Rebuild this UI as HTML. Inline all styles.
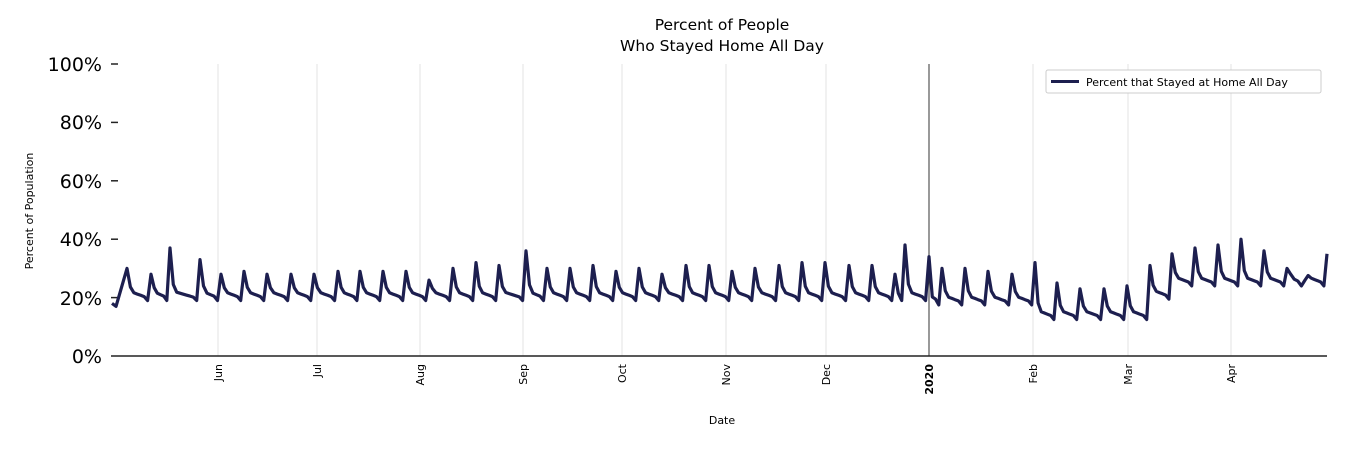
<!DOCTYPE html>
<html><head><meta charset="utf-8"><style>
html,body{margin:0;padding:0;background:#fff;width:1350px;height:450px;overflow:hidden}
text{font-family:"DejaVu Sans","Liberation Sans",sans-serif}
</style></head><body>
<svg id="s" width="1350" height="450" xmlns="http://www.w3.org/2000/svg">
<text x="722" y="30" font-size="15.5" text-anchor="middle">Percent of People</text>
<text x="722" y="51" font-size="15.5" text-anchor="middle">Who Stayed Home All Day</text>
<g stroke="#e3e3e3" stroke-width="1">
<line x1="218" y1="64" x2="218" y2="356"/><line x1="317" y1="64" x2="317" y2="356"/>
<line x1="420" y1="64" x2="420" y2="356"/><line x1="523" y1="64" x2="523" y2="356"/>
<line x1="622" y1="64" x2="622" y2="356"/><line x1="726" y1="64" x2="726" y2="356"/>
<line x1="826" y1="64" x2="826" y2="356"/><line x1="1033" y1="64" x2="1033" y2="356"/>
<line x1="1128" y1="64" x2="1128" y2="356"/><line x1="1231" y1="64" x2="1231" y2="356"/>
</g>
<line x1="929" y1="64" x2="929" y2="356" stroke="#000" stroke-width="0.8"/>
<line x1="111" y1="356" x2="1327" y2="356" stroke="#222" stroke-width="1.5"/>
<g stroke="#222" stroke-width="1.5">
<line x1="111" y1="64" x2="118" y2="64"/><line x1="111" y1="122.4" x2="118" y2="122.4"/>
<line x1="111" y1="180.8" x2="118" y2="180.8"/><line x1="111" y1="239.2" x2="118" y2="239.2"/>
<line x1="111" y1="297.6" x2="118" y2="297.6"/>
</g>
<g font-size="19" text-anchor="end">
<text x="102" y="71">100%</text><text x="102" y="129">80%</text><text x="102" y="188">60%</text>
<text x="102" y="246">40%</text><text x="102" y="305">20%</text><text x="102" y="363">0%</text>
</g>
<text transform="translate(33,211) rotate(-90)" font-size="11" text-anchor="middle">Percent of Population</text>
<text x="722" y="424" font-size="11" text-anchor="middle">Date</text>
<g font-size="11" text-anchor="end">
<text transform="translate(222,364) rotate(-90)">Jun</text>
<text transform="translate(321,364) rotate(-90)">Jul</text>
<text transform="translate(424,364) rotate(-90)">Aug</text>
<text transform="translate(527,364) rotate(-90)">Sep</text>
<text transform="translate(626,364) rotate(-90)">Oct</text>
<text transform="translate(730,364) rotate(-90)">Nov</text>
<text transform="translate(830,364) rotate(-90)">Dec</text>
<text transform="translate(933,364) rotate(-90)" font-weight="bold">2020</text>
<text transform="translate(1037,364) rotate(-90)">Feb</text>
<text transform="translate(1132,364) rotate(-90)">Mar</text>
<text transform="translate(1235,364) rotate(-90)">Apr</text>
</g>
<rect x="1046" y="70" width="275" height="23" fill="#fff" stroke="#ccc" rx="2"/>
<line x1="1051" y1="81.5" x2="1079" y2="81.5" stroke="#1d1f4f" stroke-width="3"/>
<text x="1086" y="86" font-size="11">Percent that Stayed at Home All Day</text>
<path id="ln" fill="none" stroke="#1d1f4f" stroke-width="3.2" stroke-linejoin="round"/>
</svg>
<script>
var P=[[112,18],[116,17],[127,30],[151,28],[170,37],[200,33],[221,28],[244,29],[267,28],[291,28],[314,28],[338,29],[360,29],[383,29],[406,29],[429,26],[453,30],[476,32],[499,31],[526,36],[547,30],[570,30],[593,31],[616,29],[639,30],[662,28],[686,31],[709,31],[732,29],[755,30],[779,31],[802,32],[825,32],[849,31],[872,31],[895,28],[905,38],[929,34],[942,30],[965,30],[988,29],[1012,28],[1035,32],[1057,25],[1080,23],[1104,23],[1127,24],[1150,31],[1172,35],[1195,37],[1218,38],[1241,40],[1264,36],[1287,30],[1305,26],[1327,35]];
function base(x){if(x<925)return 20.5;if(x<1030)return 19;if(x<1145)return 14;if(x<1165)return 21;return 25.5;}
var pts=[[112,18],[116,17]];
for(var i=2;i<P.length;i++){var b=P[i];pts.push(b);if(i==P.length-1)break;var n=P[i+1],g=n[0]-b[0],m=Math.max(1,Math.round(g/3.33)-1),bs=base(b[0]);
for(var k=1;k<=m;k++){var t=k/(m+1);var v=bs+2-3*t;if(k==1&&m>3)v=bs+2+(b[1]-bs)*0.12;if(k==m)v=bs-1.5;pts.push([b[0]+g*t,v]);}}
var d=pts.map(function(p,i){return (i?'L':'M')+p[0].toFixed(1)+','+(356-p[1]*2.92).toFixed(1)}).join('');
document.getElementById('ln').setAttribute('d',d);
</script>
</body></html>
